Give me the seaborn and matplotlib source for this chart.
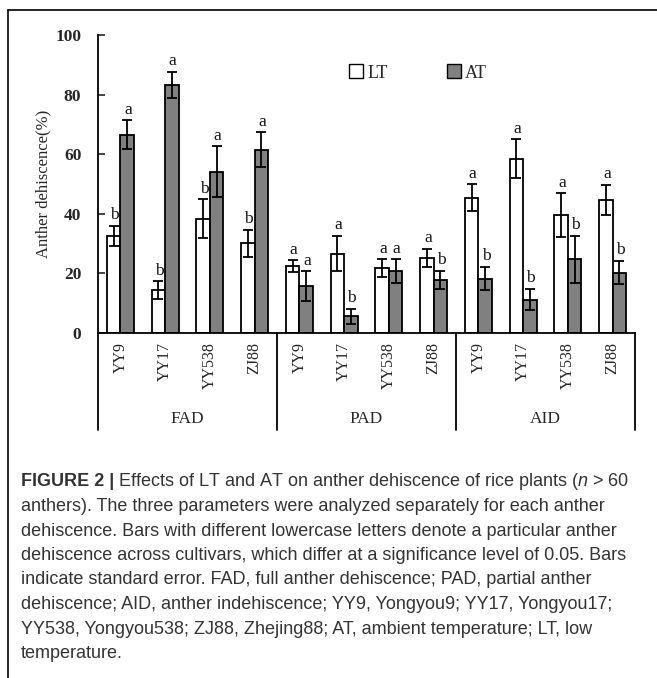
import numpy as np
import pandas as pd
import matplotlib
matplotlib.use("Agg")
import matplotlib.pyplot as plt
import seaborn as sns
from matplotlib.lines import Line2D
from matplotlib.patches import Patch

# ---------------- data ----------------
groups = ["FAD", "PAD", "AID"]
cultivars = ["YY9", "YY17", "YY538", "ZJ88"]
treatments = ["LT", "AT"]

lt_mean = [32.6, 14.3, 38.3, 30.0, 22.3, 26.6, 21.7, 25.2, 45.3, 58.5, 39.5, 44.7]
lt_err = [3.4, 3.0, 6.5, 4.5, 2.0, 6.0, 3.0, 3.0, 4.5, 6.4, 7.4, 5.0]
at_mean = [66.5, 83.2, 54.1, 61.5, 15.7, 5.5, 20.7, 17.8, 18.2, 11.1, 24.6, 20.2]
at_err = [4.9, 4.5, 8.5, 5.9, 5.0, 2.5, 4.0, 3.0, 4.0, 3.6, 8.0, 4.0]
lt_letters = ["b", "b", "b", "b", "a", "a", "a", "a", "a", "a", "a", "a"]
at_letters = ["a", "a", "a", "a", "a", "b", "a", "b", "b", "b", "b", "b"]

yticks = [0, 20, 40, 60, 80, 100]
ylabel = "Anther dehiscence(%)"

caption_lines = [
    "anthers). The three parameters were analyzed separately for each anther",
    "dehiscence. Bars with different lowercase letters denote a particular anther",
    "dehiscence across cultivars, which differ at a significance level of 0.05. Bars",
    "indicate standard error. FAD, full anther dehiscence; PAD, partial anther",
    "dehiscence; AID, anther indehiscence; YY9, Yongyou9; YY17, Yongyou17;",
    "YY538, Yongyou538; ZJ88, Zhejing88; AT, ambient temperature; LT, low",
    "temperature.",
]

# ---------------- table ----------------
slots = [f"{g}-{c}" for g in groups for c in cultivars]
rows = []
for i, s in enumerate(slots):
    rows.append({"slot": s, "treatment": "LT", "value": lt_mean[i]})
    rows.append({"slot": s, "treatment": "AT", "value": at_mean[i]})
df = pd.DataFrame(rows)

# ---------------- style ----------------
sns.set_style("ticks")
plt.rcParams["font.family"] = ["Liberation Serif", "DejaVu Serif"]
plt.rcParams["mathtext.fontset"] = "custom"
plt.rcParams["mathtext.it"] = "Liberation Sans:italic"
plt.rcParams["mathtext.rm"] = "Liberation Sans"

W, H = 657, 678
fig = plt.figure(figsize=(W / 100, H / 100), dpi=100)
ax_left, ax_right, ax_top, ax_bot = 98, 635, 35, 332.7
ax = fig.add_axes([ax_left / W, 1 - ax_bot / H, (ax_right - ax_left) / W, (ax_bot - ax_top) / H])

sns.barplot(data=df, x="slot", y="value", hue="treatment", order=slots,
            hue_order=treatments, palette={"LT": "white", "AT": "#808080"},
            edgecolor="black", linewidth=1.3, width=0.6, gap=0,
            errorbar=None, legend=False, ax=ax)

for cont, means, errs, letters in zip(ax.containers[:2], [lt_mean, at_mean],
                                      [lt_err, at_err], [lt_letters, at_letters]):
    xs = [b.get_x() + b.get_width() / 2 for b in cont]
    ax.errorbar(xs, means, yerr=errs, fmt="none", ecolor="black",
                elinewidth=1.3, capsize=3.6, capthick=1.3, zorder=5)
    for x, m, e, l in zip(xs, means, errs, letters):
        ax.text(x + 0.02, m + e + 2.2, l, ha="center", va="baseline",
                fontsize=12.5, color="#111111")

ax.set_xlim(-0.5, len(slots) - 0.5)
ax.set_ylim(0, 100)
ax.set_yticks(yticks)
ax.set_xticks(range(len(slots)))
ax.set_xticklabels([c for g in groups for c in cultivars], rotation=90,
                   ha="center", va="top", fontsize=11.5)
ax.tick_params(axis="x", length=0, pad=7)
ax.tick_params(axis="y", direction="in", length=5, width=1.2, pad=12,
               labelsize=12.5)
for lab in ax.get_yticklabels():
    lab.set_fontweight("bold")
ax.set_xlabel("")
ax.set_ylabel(ylabel, fontsize=12, labelpad=3)
sns.despine(ax=ax, top=True, right=True)
for sp in ["left", "bottom"]:
    ax.spines[sp].set_linewidth(1.3)
    ax.spines[sp].set_color("black")

# group separators below the axis
line_bottom = (ax_bot - 430) / (ax_bot - ax_top)
for b in [-0.5, 3.5, 7.5, 11.5]:
    ax.axvline(b, ymin=line_bottom, ymax=0, color="black", lw=1.3, clip_on=False)
label_y = (ax_bot - 419) / (ax_bot - ax_top)
for gi, g in enumerate(groups):
    ax.text(gi * 4 + 1.5, label_y, g, transform=ax.get_xaxis_transform(),
            ha="center", va="center", fontsize=12.5)

# legend
handles = [Patch(facecolor="white", edgecolor="black", label="LT"),
           Patch(facecolor="#808080", edgecolor="black", label="AT")]
fig.legend(handles=handles, ncol=2, frameon=False, loc="center",
           bbox_to_anchor=(418 / W, 1 - 73 / H), fontsize=13,
           handlelength=0.8, handleheight=0.8, handletextpad=0.2,
           columnspacing=3.3)

# frame lines (top and left)
fig.add_artist(Line2D([7.5 / W, 1], [1 - 10 / H, 1 - 10 / H], color="black", lw=1.2))
fig.add_artist(Line2D([7.5 / W, 7.5 / W], [0, 1 - 10 / H], color="black", lw=1.2))

# caption
cap_font = dict(family="Liberation Sans", fontsize=13.0, color="#333333")
cx = 21 / W
line_y = [482, 506.5, 531, 555.5, 580, 604.5, 629, 653.5]
fig.canvas.draw()
r = fig.canvas.get_renderer()
t0 = fig.text(cx, 1 - line_y[0] / H, "FIGURE 2 |", va="center", ha="left",
              fontweight="bold", **cap_font)
bb = t0.get_window_extent(renderer=r)
fig.text((bb.x1 + 4) / W, 1 - line_y[0] / H,
         r"Effects of LT and AT on anther dehiscence of rice plants ($\it{n}$ > 60",
         va="center", ha="left", **cap_font)
for yy, txt in zip(line_y[1:], caption_lines):
    fig.text(cx, 1 - yy / H, txt, va="center", ha="left", **cap_font)

fig.savefig("out.png", dpi=100)
